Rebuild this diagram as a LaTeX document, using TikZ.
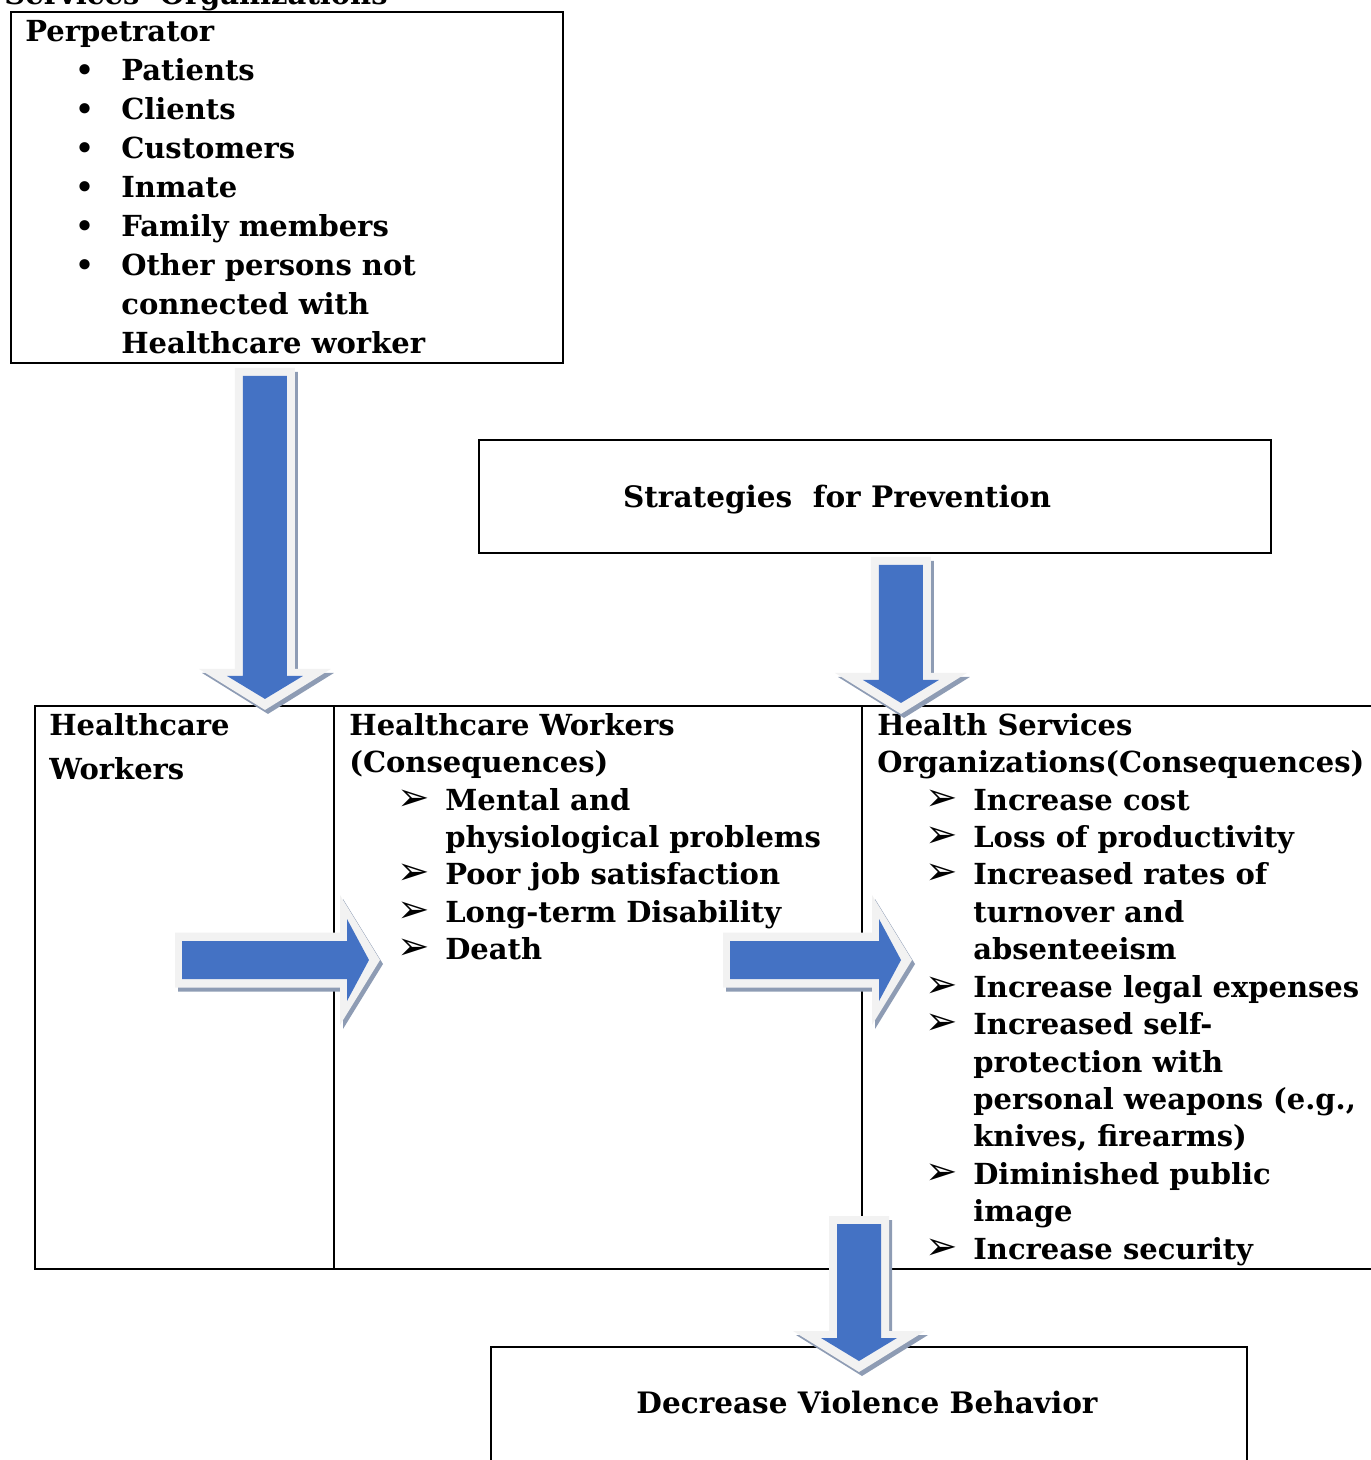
\documentclass[tikz,border=0pt]{standalone}
\usepackage{fontspec}
\setmainfont{DejaVu Serif}
\newfontfamily\dingFont{DejaVu Sans}
\usetikzlibrary{positioning,calc}
\definecolor{arrowBlue}{HTML}{4472C4}
\definecolor{arrowRim}{HTML}{F2F2F2}
\definecolor{arrowShade}{HTML}{8E9CB4}
\newlength{\pxu}\setlength{\pxu}{0.02cm}
\newcommand{\dotItem}[1]{\hspace*{50\pxu}\makebox[46\pxu][l]{•}#1}
\newcommand{\dotCont}[1]{\hspace*{96\pxu}#1}
\newcommand{\arrItem}[1]{\hspace*{48\pxu}\makebox[48\pxu][l]{\dingFont\fontsize{22pt}{22pt}\selectfont ➢}#1}
\newcommand{\arrCont}[1]{\hspace*{96\pxu}#1}

\tikzset{
    pics/downArrow/.style={code={
        \fill[arrowShade, shift={(3,4)}] (-30,0) -- (30,0) -- (30,{#1-41}) -- (66,{#1-41}) -- (0,#1) -- (-66,{#1-41}) -- (-30,{#1-41}) -- cycle;
        \fill[arrowRim] (-30,0) -- (30,0) -- (30,{#1-41}) -- (66,{#1-41}) -- (0,#1) -- (-66,{#1-41}) -- (-30,{#1-41}) -- cycle;
        \fill[arrowBlue] (-22,8) -- (22,8) -- (22,{#1-34}) -- (38,{#1-34}) -- (0,{#1-11}) -- (-38,{#1-34}) -- (-22,{#1-34}) -- cycle;
    }},
    pics/rightArrow/.style={code={
        \fill[arrowShade, shift={(3,4)}] (0,-27.5) -- ({#1-40},-27.5) -- ({#1-40},-65) -- (#1,0) -- ({#1-40},65) -- ({#1-40},27.5) -- (0,27.5) -- cycle;
        \fill[arrowRim] (0,-27.5) -- ({#1-40},-27.5) -- ({#1-40},-65) -- (#1,0) -- ({#1-40},65) -- ({#1-40},27.5) -- (0,27.5) -- cycle;
        \fill[arrowBlue] (7,-19) -- ({#1-33},-19) -- ({#1-33},-41) -- ({#1-11},0) -- ({#1-33},41) -- ({#1-33},19) -- (7,19) -- cycle;
    }}
}

\begin{document}
\begin{tikzpicture}[
    x=0.02cm, y=-0.02cm,
    boxShape/.style={rectangle, draw=black, line width=1.1pt, anchor=north west, inner sep=0pt},
    bodyText/.style={font=\fontsize{16.5pt}{21.3pt}\selectfont\bfseries, align=left, inner sep=0pt, anchor=north west},
    titleText/.style={font=\fontsize{16.8pt}{21.3pt}\selectfont\bfseries, inner sep=0pt, anchor=base}
]
    \useasboundingbox (0,0) rectangle (1371,1460);

    % Boxes
    \node[boxShape, minimum width=552\pxu, minimum height=351\pxu] (perpBox) at (10,11) {};
    \node[boxShape, minimum width=792\pxu, minimum height=113\pxu] (stratBox) at (478,439) {};
    \node[boxShape, minimum width=1346\pxu, minimum height=563\pxu] (tableBox) at (34,705) {};
    \node[boxShape, minimum width=756\pxu, minimum height=129\pxu] (decBox) at (490,1346) {};

    % Table columns
    \draw[line width=1.1pt] ($(tableBox.north west)+(300,0)$) coordinate (colA) -- (colA |- tableBox.south);
    \draw[line width=1.1pt] ($(tableBox.north west)+(828,0)$) coordinate (colB) -- (colB |- tableBox.south);

    % Heading cut at the top
    \node[titleText, font=\fontsize{16.5pt}{21.3pt}\selectfont\bfseries, anchor=base east] (headCut) at (388,5) {Services\ \ Organizations};

    % Perpetrator
    \node[bodyText, font=\fontsize{16.5pt}{22.2pt}\selectfont\bfseries] (perpText) at (25,13.5) {
        \strut Perpetrator\\
        \dotItem{Patients}\\
        \dotItem{Clients}\\
        \dotItem{Customers}\\
        \dotItem{Inmate}\\
        \dotItem{Family members}\\
        \dotItem{Other persons not}\\
        \dotCont{connected with}\\
        \dotCont{Healthcare worker}
    };

    \node[titleText] (stratText) at (837,507) {Strategies\ \ for Prevention};

    % Table texts
    \node[bodyText] (hwText) at (49,708.7) {
        \strut Healthcare\\[4pt]
        Workers
    };
    \node[bodyText] (hwConsText) at (349,708.7) {
        \strut Healthcare Workers\\
        (Consequences)\\
        \arrItem{Mental and}\\
        \arrCont{physiological problems}\\
        \arrItem{Poor job satisfaction}\\
        \arrItem{Long-term Disability}\\
        \arrItem{Death}
    };
    \node[bodyText] (hsoText) at (877,708.7) {
        \strut Health Services\\
        Organizations(Consequences)\\
        \arrItem{Increase cost}\\
        \arrItem{Loss of productivity}\\
        \arrItem{Increased rates of}\\
        \arrCont{turnover and}\\
        \arrCont{absenteeism}\\
        \arrItem{Increase legal expenses}\\
        \arrItem{Increased self-}\\
        \arrCont{protection with}\\
        \arrCont{personal weapons (e.g.,}\\
        \arrCont{knives, firearms)}\\
        \arrItem{Diminished public}\\
        \arrCont{image}\\
        \arrItem{Increase security}
    };

    \node[titleText] (decText) at (867,1413) {Decrease Violence Behavior};

    % Block arrows
    \path (perpBox.south) ++(-22,4) pic {downArrow=342};
    \path (stratBox.south) ++(26,3) pic {downArrow=157};
    \path (175,960) pic {rightArrow=205};
    \path (723,960) pic {rightArrow=189};
    \path (859,1216) pic {downArrow=156};
\end{tikzpicture}
\end{document}
